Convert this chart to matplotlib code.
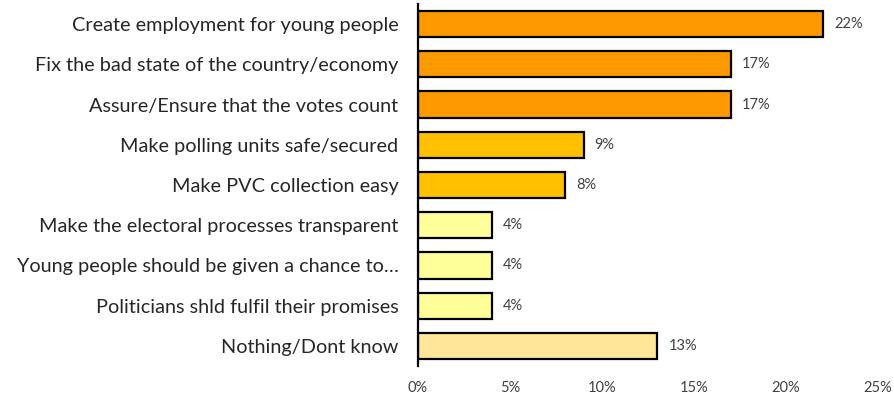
import matplotlib.pyplot as plt

# responses, top to bottom
categories = [
    "Create employment for young people",
    "Fix the bad state of the country/economy",
    "Assure/Ensure that the votes count",
    "Make polling units safe/secured",
    "Make PVC collection easy",
    "Make the electoral processes transparent",
    "Young people should be given a chance to\u2026",
    "Politicians shld fulfil their promises",
    "Nothing/Dont know",
]
values = [22, 17, 17, 9, 8, 4, 4, 4, 13]
colors = ["#FF9900", "#FF9900", "#FF9900", "#FFC000", "#FFC000",
          "#FFFF99", "#FFFF99", "#FFFF99", "#FFE699"]
xticks = [0, 5, 10, 15, 20, 25]

plt.rcParams['font.family'] = ['Lato', 'DejaVu Sans']

fig = plt.figure(figsize=(8.94, 3.97), dpi=100)
ax = fig.add_axes([0.4676, 0.078, 0.5145, 0.912])

y = list(range(len(categories)))
ax.barh(y, values, height=0.65, color=colors, edgecolor="black", linewidth=1.6)
for yi, v in zip(y, values):
    ax.text(v + 0.6, yi, f"{v}%", va="center", ha="left", fontsize=10.5, color="#404040")

ax.set_ylim(len(categories) - 0.5, -0.5)
ax.set_xlim(0, 25)
ax.set_yticks(y)
ax.set_yticklabels(categories, fontsize=14.3, color="#262626")
ax.set_xticks(xticks)
ax.set_xticklabels([f"{t}%" for t in xticks], fontsize=10.5, color="#404040")
ax.tick_params(axis="y", length=0, pad=14)
ax.tick_params(axis="x", length=0, pad=11)
for s in ["top", "right", "bottom"]:
    ax.spines[s].set_visible(False)
ax.spines["left"].set_linewidth(1.6)

fig.savefig("out.png", dpi=100)
